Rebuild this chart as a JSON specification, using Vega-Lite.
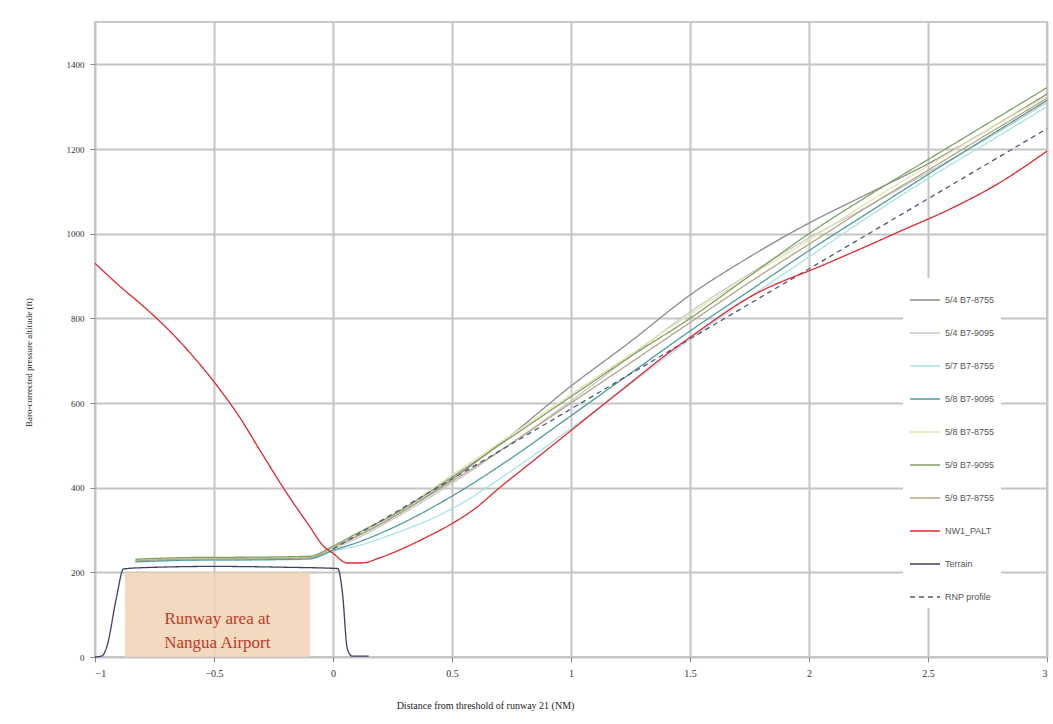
{
  "$schema": "https://vega.github.io/schema/vega-lite/v6.json",
  "autosize": "none",
  "width": 952,
  "height": 635,
  "padding": {"left": 95, "top": 22, "right": 6, "bottom": 67},
  "background": "white",
  "config": {
    "view": {"stroke": "#c8c8c8", "strokeWidth": 2},
    "font": "Liberation Serif"
  },
  "datasets": {
    "lines": [
      {"series": "5/4 B7-8755", "x": -0.83, "y": 228}, {"series": "5/4 B7-8755", "x": -0.6, "y": 232}, {"series": "5/4 B7-8755", "x": -0.3, "y": 233}, {"series": "5/4 B7-8755", "x": -0.1, "y": 235}, {"series": "5/4 B7-8755", "x": 0, "y": 258}, {"series": "5/4 B7-8755", "x": 0.1, "y": 285}, {"series": "5/4 B7-8755", "x": 0.25, "y": 330}, {"series": "5/4 B7-8755", "x": 0.5, "y": 420}, {"series": "5/4 B7-8755", "x": 0.75, "y": 525}, {"series": "5/4 B7-8755", "x": 1, "y": 640}, {"series": "5/4 B7-8755", "x": 1.25, "y": 745}, {"series": "5/4 B7-8755", "x": 1.5, "y": 855}, {"series": "5/4 B7-8755", "x": 1.75, "y": 945}, {"series": "5/4 B7-8755", "x": 2, "y": 1025}, {"series": "5/4 B7-8755", "x": 2.25, "y": 1095}, {"series": "5/4 B7-8755", "x": 2.5, "y": 1165}, {"series": "5/4 B7-8755", "x": 2.75, "y": 1245}, {"series": "5/4 B7-8755", "x": 3, "y": 1330},
      {"series": "5/4 B7-9095", "x": -0.83, "y": 226}, {"series": "5/4 B7-9095", "x": -0.6, "y": 230}, {"series": "5/4 B7-9095", "x": -0.3, "y": 231}, {"series": "5/4 B7-9095", "x": -0.1, "y": 232}, {"series": "5/4 B7-9095", "x": 0, "y": 255}, {"series": "5/4 B7-9095", "x": 0.1, "y": 280}, {"series": "5/4 B7-9095", "x": 0.25, "y": 325}, {"series": "5/4 B7-9095", "x": 0.5, "y": 410}, {"series": "5/4 B7-9095", "x": 0.75, "y": 505}, {"series": "5/4 B7-9095", "x": 1, "y": 605}, {"series": "5/4 B7-9095", "x": 1.25, "y": 710}, {"series": "5/4 B7-9095", "x": 1.5, "y": 815}, {"series": "5/4 B7-9095", "x": 1.75, "y": 905}, {"series": "5/4 B7-9095", "x": 2, "y": 990}, {"series": "5/4 B7-9095", "x": 2.25, "y": 1065}, {"series": "5/4 B7-9095", "x": 2.5, "y": 1145}, {"series": "5/4 B7-9095", "x": 2.75, "y": 1225}, {"series": "5/4 B7-9095", "x": 3, "y": 1310},
      {"series": "5/7 B7-8755", "x": -0.83, "y": 224}, {"series": "5/7 B7-8755", "x": -0.6, "y": 228}, {"series": "5/7 B7-8755", "x": -0.3, "y": 229}, {"series": "5/7 B7-8755", "x": -0.1, "y": 231}, {"series": "5/7 B7-8755", "x": 0, "y": 250}, {"series": "5/7 B7-8755", "x": 0.1, "y": 262}, {"series": "5/7 B7-8755", "x": 0.25, "y": 290}, {"series": "5/7 B7-8755", "x": 0.5, "y": 350}, {"series": "5/7 B7-8755", "x": 0.75, "y": 440}, {"series": "5/7 B7-8755", "x": 1, "y": 540}, {"series": "5/7 B7-8755", "x": 1.25, "y": 645}, {"series": "5/7 B7-8755", "x": 1.5, "y": 750}, {"series": "5/7 B7-8755", "x": 1.75, "y": 850}, {"series": "5/7 B7-8755", "x": 2, "y": 945}, {"series": "5/7 B7-8755", "x": 2.25, "y": 1040}, {"series": "5/7 B7-8755", "x": 2.5, "y": 1130}, {"series": "5/7 B7-8755", "x": 2.75, "y": 1215}, {"series": "5/7 B7-8755", "x": 3, "y": 1300},
      {"series": "5/8 B7-9095", "x": -0.83, "y": 225}, {"series": "5/8 B7-9095", "x": -0.6, "y": 229}, {"series": "5/8 B7-9095", "x": -0.3, "y": 230}, {"series": "5/8 B7-9095", "x": -0.1, "y": 232}, {"series": "5/8 B7-9095", "x": 0, "y": 252}, {"series": "5/8 B7-9095", "x": 0.1, "y": 270}, {"series": "5/8 B7-9095", "x": 0.25, "y": 305}, {"series": "5/8 B7-9095", "x": 0.5, "y": 380}, {"series": "5/8 B7-9095", "x": 0.75, "y": 470}, {"series": "5/8 B7-9095", "x": 1, "y": 570}, {"series": "5/8 B7-9095", "x": 1.25, "y": 670}, {"series": "5/8 B7-9095", "x": 1.5, "y": 770}, {"series": "5/8 B7-9095", "x": 1.75, "y": 865}, {"series": "5/8 B7-9095", "x": 2, "y": 960}, {"series": "5/8 B7-9095", "x": 2.25, "y": 1050}, {"series": "5/8 B7-9095", "x": 2.5, "y": 1140}, {"series": "5/8 B7-9095", "x": 2.75, "y": 1228}, {"series": "5/8 B7-9095", "x": 3, "y": 1315},
      {"series": "5/8 B7-8755", "x": -0.83, "y": 229}, {"series": "5/8 B7-8755", "x": -0.6, "y": 233}, {"series": "5/8 B7-8755", "x": -0.3, "y": 234}, {"series": "5/8 B7-8755", "x": -0.1, "y": 236}, {"series": "5/8 B7-8755", "x": 0, "y": 258}, {"series": "5/8 B7-8755", "x": 0.1, "y": 288}, {"series": "5/8 B7-8755", "x": 0.25, "y": 335}, {"series": "5/8 B7-8755", "x": 0.5, "y": 430}, {"series": "5/8 B7-8755", "x": 0.75, "y": 525}, {"series": "5/8 B7-8755", "x": 1, "y": 620}, {"series": "5/8 B7-8755", "x": 1.25, "y": 715}, {"series": "5/8 B7-8755", "x": 1.5, "y": 810}, {"series": "5/8 B7-8755", "x": 1.75, "y": 900}, {"series": "5/8 B7-8755", "x": 2, "y": 985}, {"series": "5/8 B7-8755", "x": 2.25, "y": 1075}, {"series": "5/8 B7-8755", "x": 2.5, "y": 1160}, {"series": "5/8 B7-8755", "x": 2.75, "y": 1245}, {"series": "5/8 B7-8755", "x": 3, "y": 1325},
      {"series": "5/9 B7-9095", "x": -0.83, "y": 231}, {"series": "5/9 B7-9095", "x": -0.6, "y": 235}, {"series": "5/9 B7-9095", "x": -0.3, "y": 236}, {"series": "5/9 B7-9095", "x": -0.1, "y": 238}, {"series": "5/9 B7-9095", "x": 0, "y": 262}, {"series": "5/9 B7-9095", "x": 0.1, "y": 292}, {"series": "5/9 B7-9095", "x": 0.25, "y": 335}, {"series": "5/9 B7-9095", "x": 0.5, "y": 425}, {"series": "5/9 B7-9095", "x": 0.75, "y": 520}, {"series": "5/9 B7-9095", "x": 1, "y": 615}, {"series": "5/9 B7-9095", "x": 1.25, "y": 710}, {"series": "5/9 B7-9095", "x": 1.5, "y": 800}, {"series": "5/9 B7-9095", "x": 1.75, "y": 900}, {"series": "5/9 B7-9095", "x": 2, "y": 1000}, {"series": "5/9 B7-9095", "x": 2.25, "y": 1090}, {"series": "5/9 B7-9095", "x": 2.5, "y": 1175}, {"series": "5/9 B7-9095", "x": 2.75, "y": 1260}, {"series": "5/9 B7-9095", "x": 3, "y": 1345},
      {"series": "5/9 B7-8755", "x": -0.83, "y": 227}, {"series": "5/9 B7-8755", "x": -0.6, "y": 231}, {"series": "5/9 B7-8755", "x": -0.3, "y": 232}, {"series": "5/9 B7-8755", "x": -0.1, "y": 234}, {"series": "5/9 B7-8755", "x": 0, "y": 260}, {"series": "5/9 B7-8755", "x": 0.1, "y": 285}, {"series": "5/9 B7-8755", "x": 0.25, "y": 330}, {"series": "5/9 B7-8755", "x": 0.5, "y": 415}, {"series": "5/9 B7-8755", "x": 0.75, "y": 505}, {"series": "5/9 B7-8755", "x": 1, "y": 600}, {"series": "5/9 B7-8755", "x": 1.25, "y": 695}, {"series": "5/9 B7-8755", "x": 1.5, "y": 790}, {"series": "5/9 B7-8755", "x": 1.75, "y": 885}, {"series": "5/9 B7-8755", "x": 2, "y": 975}, {"series": "5/9 B7-8755", "x": 2.25, "y": 1065}, {"series": "5/9 B7-8755", "x": 2.5, "y": 1150}, {"series": "5/9 B7-8755", "x": 2.75, "y": 1235}, {"series": "5/9 B7-8755", "x": 3, "y": 1320},
      {"series": "Terrain", "x": -1, "y": 0}, {"series": "Terrain", "x": -0.97, "y": 3}, {"series": "Terrain", "x": -0.95, "y": 25}, {"series": "Terrain", "x": -0.91, "y": 140}, {"series": "Terrain", "x": -0.88, "y": 208}, {"series": "Terrain", "x": -0.8, "y": 211}, {"series": "Terrain", "x": -0.5, "y": 214}, {"series": "Terrain", "x": -0.2, "y": 212}, {"series": "Terrain", "x": 0.02, "y": 209}, {"series": "Terrain", "x": 0.04, "y": 150}, {"series": "Terrain", "x": 0.06, "y": 20}, {"series": "Terrain", "x": 0.08, "y": 2}, {"series": "Terrain", "x": 0.15, "y": 2},
      {"series": "RNP profile", "x": 0, "y": 255}, {"series": "RNP profile", "x": 3, "y": 1248},
      {"series": "NW1_PALT", "x": -1, "y": 930}, {"series": "NW1_PALT", "x": -0.9, "y": 878}, {"series": "NW1_PALT", "x": -0.8, "y": 830}, {"series": "NW1_PALT", "x": -0.7, "y": 778}, {"series": "NW1_PALT", "x": -0.6, "y": 718}, {"series": "NW1_PALT", "x": -0.5, "y": 650}, {"series": "NW1_PALT", "x": -0.4, "y": 573}, {"series": "NW1_PALT", "x": -0.3, "y": 482}, {"series": "NW1_PALT", "x": -0.2, "y": 392}, {"series": "NW1_PALT", "x": -0.1, "y": 310}, {"series": "NW1_PALT", "x": -0.04, "y": 262}, {"series": "NW1_PALT", "x": 0, "y": 245}, {"series": "NW1_PALT", "x": 0.06, "y": 222}, {"series": "NW1_PALT", "x": 0.12, "y": 222}, {"series": "NW1_PALT", "x": 0.2, "y": 235}, {"series": "NW1_PALT", "x": 0.3, "y": 258}, {"series": "NW1_PALT", "x": 0.4, "y": 285}, {"series": "NW1_PALT", "x": 0.5, "y": 315}, {"series": "NW1_PALT", "x": 0.6, "y": 352}, {"series": "NW1_PALT", "x": 0.7, "y": 400}, {"series": "NW1_PALT", "x": 0.8, "y": 445}, {"series": "NW1_PALT", "x": 0.9, "y": 490}, {"series": "NW1_PALT", "x": 1, "y": 535}, {"series": "NW1_PALT", "x": 1.1, "y": 580}, {"series": "NW1_PALT", "x": 1.2, "y": 625}, {"series": "NW1_PALT", "x": 1.3, "y": 670}, {"series": "NW1_PALT", "x": 1.4, "y": 714}, {"series": "NW1_PALT", "x": 1.5, "y": 755}, {"series": "NW1_PALT", "x": 1.6, "y": 795}, {"series": "NW1_PALT", "x": 1.7, "y": 833}, {"series": "NW1_PALT", "x": 1.8, "y": 865}, {"series": "NW1_PALT", "x": 1.9, "y": 890}, {"series": "NW1_PALT", "x": 2, "y": 912}, {"series": "NW1_PALT", "x": 2.2, "y": 960}, {"series": "NW1_PALT", "x": 2.4, "y": 1010}, {"series": "NW1_PALT", "x": 2.6, "y": 1060}, {"series": "NW1_PALT", "x": 2.8, "y": 1120}, {"series": "NW1_PALT", "x": 3, "y": 1195}
    ],
    "runway": [{"x": -0.874, "x2": -0.097, "y": 0, "y2": 200}],
    "label": [{"x": -0.486, "y": 90, "text": "Runway area at\nNangua Airport"}]
  },
  "layer": [
    {
      "data": {"name": "runway"},
      "mark": {"type": "rect", "fill": "#f1d2b3", "opacity": 0.85},
      "encoding": {
        "x": {"field": "x", "type": "quantitative", "scale": {"domain": [-1, 3], "nice": false},
          "axis": {"values": [-1, -0.5, 0, 0.5, 1, 1.5, 2, 2.5, 3], "format": "~g", "title": "Distance from threshold of runway 21 (NM)", "gridColor": "#c4c4c4", "gridWidth": 2, "domain": false, "tickColor": "#888", "tickSize": 5, "labelFont": "Liberation Serif", "labelFontSize": 10, "labelColor": "#333", "labelPadding": 6, "titleFont": "Liberation Serif", "titleFontSize": 10, "titleFontWeight": "normal", "titleColor": "#222", "titleX": 390, "titleY": 43}},
        "x2": {"field": "x2"},
        "y": {"field": "y", "type": "quantitative", "scale": {"domain": [0, 1500], "nice": false},
          "axis": {"values": [0, 200, 400, 600, 800, 1000, 1200, 1400], "format": "d", "title": "Baro-corrected pressure altitude (ft)", "gridColor": "#c4c4c4", "gridWidth": 2, "domain": false, "tickColor": "#888", "tickSize": 5, "labelFont": "Liberation Serif", "labelFontSize": 9, "labelColor": "#333", "labelPadding": 6, "titleFont": "Liberation Serif", "titleFontSize": 9, "titleFontWeight": "normal", "titleColor": "#222", "titleX": -62, "titleY": 340}},
        "y2": {"field": "y2"}
      }
    },
    {
      "data": {"name": "label"},
      "mark": {"type": "text", "font": "Liberation Serif", "fontSize": 17, "color": "#c0392b", "lineBreak": "\n", "lineHeight": 24, "align": "center", "baseline": "middle"},
      "encoding": {
        "x": {"field": "x", "type": "quantitative"},
        "y": {"field": "y", "type": "quantitative"},
        "text": {"field": "text"}
      }
    },
    {
      "data": {"name": "lines"},
      "mark": {"type": "line", "interpolate": "monotone"},
      "encoding": {
        "x": {"field": "x", "type": "quantitative"},
        "y": {"field": "y", "type": "quantitative"},
        "color": {"field": "series", "type": "nominal",
          "scale": {"domain": ["5/4 B7-8755", "5/4 B7-9095", "5/7 B7-8755", "5/8 B7-9095", "5/8 B7-8755", "5/9 B7-9095", "5/9 B7-8755", "NW1_PALT", "Terrain", "RNP profile"],
            "range": ["#8c8c8c", "#c9c9c9", "#a6e3ec", "#4e9c9c", "#e4e4ae", "#7ea363", "#b3a684", "#e0282e", "#3c4068", "#4e5878"]},
          "legend": {"title": null, "orient": "none", "legendX": 808, "legendY": 256, "symbolType": "stroke", "symbolSize": 900, "symbolStrokeWidth": 2, "labelFont": "Liberation Sans", "labelFontSize": 9, "labelColor": "#555", "rowPadding": 12, "fillColor": "white", "padding": 6, "labelLimit": 90}},
        "strokeDash": {"field": "series", "type": "nominal",
          "scale": {"domain": ["5/4 B7-8755", "5/4 B7-9095", "5/7 B7-8755", "5/8 B7-9095", "5/8 B7-8755", "5/9 B7-9095", "5/9 B7-8755", "NW1_PALT", "Terrain", "RNP profile"],
            "range": [[1, 0], [1, 0], [1, 0], [1, 0], [1, 0], [1, 0], [1, 0], [1, 0], [1, 0], [5, 4]]},
          "legend": {"title": null}},
        "strokeWidth": {"field": "series", "type": "nominal",
          "scale": {"domain": ["5/4 B7-8755", "5/4 B7-9095", "5/7 B7-8755", "5/8 B7-9095", "5/8 B7-8755", "5/9 B7-9095", "5/9 B7-8755", "NW1_PALT", "Terrain", "RNP profile"],
            "range": [1.3, 1.3, 1.3, 1.3, 1.3, 1.3, 1.3, 3, 2, 1.5]},
          "legend": {"title": null}}
      }
    }
  ]
}
